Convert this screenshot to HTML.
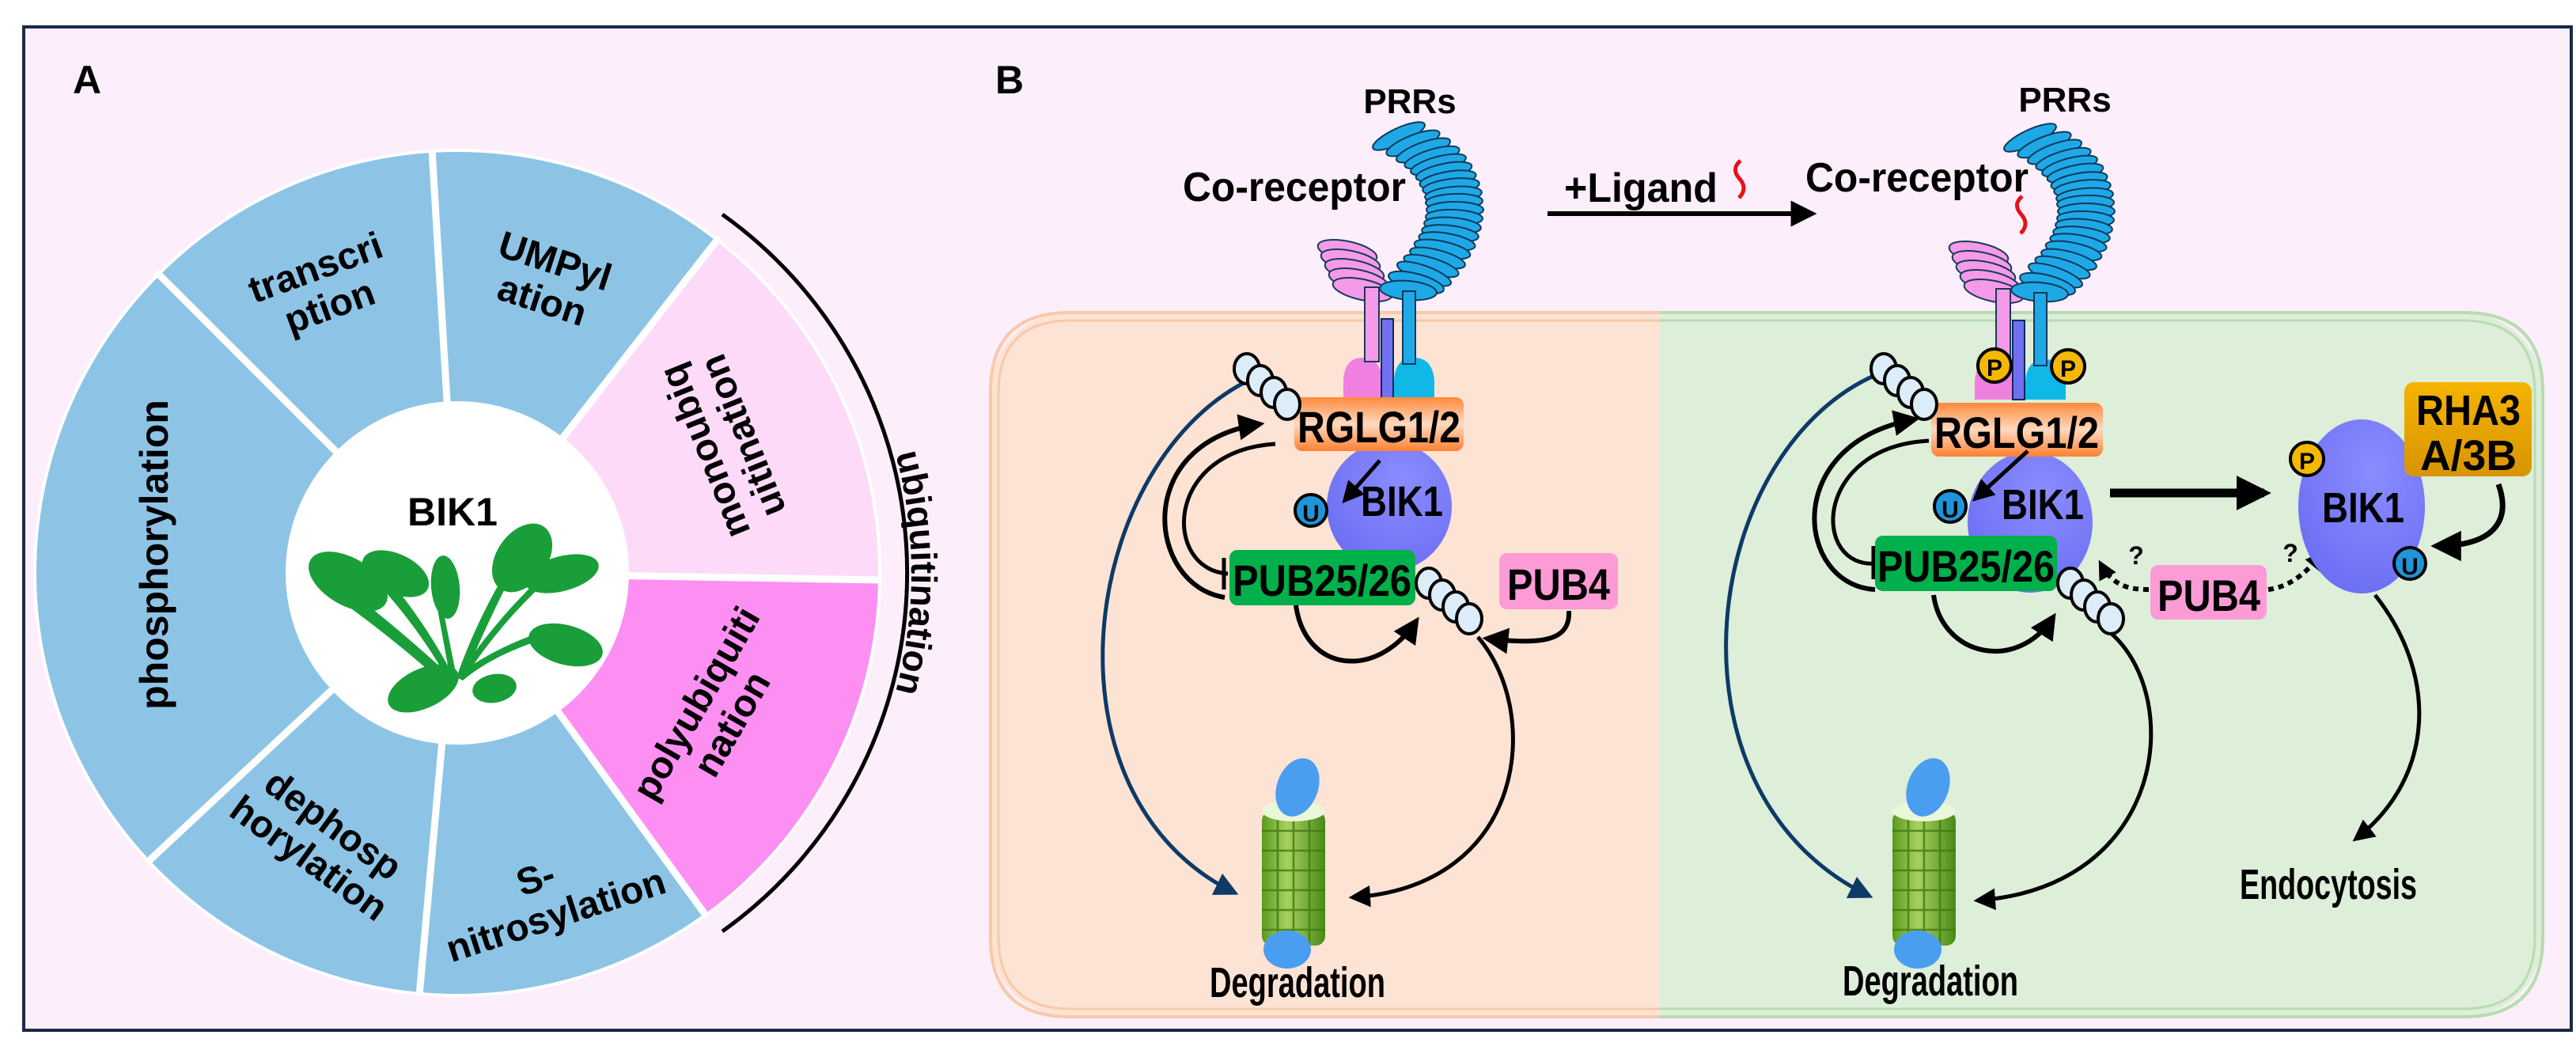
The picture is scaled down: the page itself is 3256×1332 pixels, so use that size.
<!DOCTYPE html>
<html><head><meta charset="utf-8"><style>
html,body{margin:0;padding:0;background:#fff}
svg{display:block}
.a{font-family:"Liberation Sans",sans-serif;font-weight:bold;fill:#000}
.n{font-family:"Liberation Sans Narrow","Liberation Sans",sans-serif;font-weight:bold;fill:#000}
</style></head><body>
<svg width="3256" height="1332" viewBox="0 0 3256 1332" xmlns="http://www.w3.org/2000/svg">
<defs>
<marker id="ah" viewBox="0 0 10 10" refX="8" refY="5" markerWidth="5.5" markerHeight="5.5" orient="auto-start-reverse" markerUnits="strokeWidth"><path d="M0,0 L10,5 L0,10 z" fill="#000"/></marker>
<marker id="ahn" viewBox="0 0 10 10" refX="8" refY="5" markerWidth="6" markerHeight="6" orient="auto" markerUnits="strokeWidth"><path d="M0,0 L10,5 L0,10 z" fill="#0d3a66"/></marker>
<marker id="ahs" viewBox="0 0 10 10" refX="8" refY="5" markerWidth="4" markerHeight="4" orient="auto" markerUnits="strokeWidth"><path d="M0,0 L10,5 L0,10 z" fill="#000"/></marker>
<linearGradient id="org" x1="0" y1="0" x2="0" y2="1"><stop offset="0" stop-color="#ff8a3a"/><stop offset="0.5" stop-color="#ffd9c0"/><stop offset="1" stop-color="#ff8030"/></linearGradient>
<linearGradient id="gold" x1="0" y1="0" x2="0" y2="1"><stop offset="0" stop-color="#f5b400"/><stop offset="1" stop-color="#d89400"/></linearGradient>
<linearGradient id="cyl" x1="0" y1="0" x2="1" y2="0"><stop offset="0" stop-color="#5a9a20"/><stop offset="0.4" stop-color="#a8d060"/><stop offset="1" stop-color="#4a8a18"/></linearGradient>
<radialGradient id="bik" cx="0.6" cy="0.3" r="0.8"><stop offset="0" stop-color="#8a8cff"/><stop offset="1" stop-color="#6a6cf2"/></radialGradient>
<clipPath id="cellc"><rect x="1252" y="395" width="1962" height="890" rx="100"/></clipPath>
<g id="rec">
 <g stroke="#1a3a5a" stroke-width="2" fill="#f49ae8">
  <ellipse cx="1703" cy="318" rx="38" ry="13" transform="rotate(12 1703 318)"/>
  <ellipse cx="1707" cy="330" rx="38" ry="13" transform="rotate(12 1707 330)"/>
  <ellipse cx="1712" cy="342" rx="38" ry="13" transform="rotate(12 1712 342)"/>
  <ellipse cx="1717" cy="354" rx="38" ry="13" transform="rotate(12 1717 354)"/>
  <ellipse cx="1722" cy="366" rx="38" ry="13" transform="rotate(12 1722 366)"/>
 </g>
 <g stroke="#0d3a5a" stroke-width="2" fill="#1fa8e6">
  <ellipse cx="1768" cy="172" rx="36" ry="10" transform="rotate(-25 1768 172)"/>
  <ellipse cx="1786" cy="181" rx="36" ry="10" transform="rotate(-22 1786 181)"/>
  <ellipse cx="1799" cy="190" rx="36" ry="10" transform="rotate(-20 1799 190)"/>
  <ellipse cx="1810" cy="199" rx="36" ry="10" transform="rotate(-17 1810 199)"/>
  <ellipse cx="1818" cy="208" rx="36" ry="10" transform="rotate(-15 1818 208)"/>
  <ellipse cx="1825" cy="217" rx="36" ry="10" transform="rotate(-12 1825 217)"/>
  <ellipse cx="1830" cy="227" rx="36" ry="10" transform="rotate(-10 1830 227)"/>
  <ellipse cx="1834" cy="236" rx="36" ry="10" transform="rotate(-7 1834 236)"/>
  <ellipse cx="1837" cy="246" rx="36" ry="10" transform="rotate(-5 1837 246)"/>
  <ellipse cx="1838" cy="255" rx="36" ry="10" transform="rotate(-2 1838 255)"/>
  <ellipse cx="1839" cy="265" rx="36" ry="10"/>
  <ellipse cx="1838" cy="275" rx="36" ry="10" transform="rotate(2 1838 275)"/>
  <ellipse cx="1836" cy="285" rx="36" ry="10" transform="rotate(5 1836 285)"/>
  <ellipse cx="1833" cy="295" rx="36" ry="10" transform="rotate(7 1833 295)"/>
  <ellipse cx="1829" cy="305" rx="36" ry="10" transform="rotate(10 1829 305)"/>
  <ellipse cx="1823" cy="315" rx="36" ry="10" transform="rotate(12 1823 315)"/>
  <ellipse cx="1817" cy="326" rx="36" ry="10" transform="rotate(15 1817 326)"/>
  <ellipse cx="1809" cy="336" rx="36" ry="10" transform="rotate(17 1809 336)"/>
  <ellipse cx="1800" cy="346" rx="36" ry="10" transform="rotate(20 1800 346)"/>
  <ellipse cx="1790" cy="357" rx="36" ry="11" transform="rotate(15 1790 357)"/>
  <ellipse cx="1780" cy="367" rx="36" ry="12" transform="rotate(5 1780 367)"/>
 </g>
 <path d="M1698,503 L1698,480 Q1700,452 1722,452 Q1745,452 1747,480 L1747,503 Z" fill="#f080e0"/>
 <path d="M1762,503 L1762,480 Q1764,452 1787,452 Q1810,452 1813,480 L1813,503 Z" fill="#10b8e8"/>
 <rect x="1725" y="363" width="18" height="94" fill="#f49ae8" stroke="#1a3a5a" stroke-width="2"/>
 <rect x="1773" y="368" width="16" height="92" fill="#1fa8e6" stroke="#0d3a5a" stroke-width="2"/>
 <rect x="1746" y="403" width="15" height="100" fill="#7070f0" stroke="#0d2a5a" stroke-width="2"/>
</g>
<g id="ubi4">
 <g fill="#dcecf8" stroke="#000" stroke-width="4">
  <ellipse cx="0" cy="0" rx="16" ry="19"/><ellipse cx="17" cy="15" rx="16" ry="19"/><ellipse cx="34" cy="30" rx="16" ry="19"/><ellipse cx="51" cy="45" rx="16" ry="19"/>
 </g>
</g>
<g id="prot">
 <rect x="-40" y="-75" width="80" height="170" rx="12" fill="url(#cyl)"/>
 <g stroke="#3e7a10" stroke-width="2.5" fill="none" opacity="0.8">
  <path d="M-40,-50 H40 M-40,-25 H40 M-40,0 H40 M-40,25 H40 M-40,50 H40 M-40,75 H40"/>
  <path d="M-20,-75 V95 M0,-75 V95 M20,-75 V95"/>
 </g>
 <ellipse cx="0" cy="-75" rx="40" ry="13" fill="#e8f8d8"/>
 <ellipse cx="5" cy="-105" rx="26" ry="38" fill="#4a9ef0" transform="rotate(20 5 -105)"/>
 <ellipse cx="-8" cy="100" rx="30" ry="24" fill="#4a9ef0"/>
</g>
</defs>

<rect x="0" y="0" width="3256" height="1332" fill="#fff"/>
<rect x="30" y="34" width="3220" height="1268" fill="#fdeefb" stroke="#1b2a48" stroke-width="4"/>

<!-- Panel A -->
<text class="a" x="92" y="118" font-size="50">A</text>
<circle cx="578" cy="724" r="536" fill="#fff"/>
<circle cx="578" cy="724" r="532" fill="#8dc4e6"/>
<path d="M578,724 L1110,733 A532,532 0 0 0 906,305 Z" fill="#fddbf8"/>
<path d="M578,724 L891,1155 A532,532 0 0 0 1110,733 Z" fill="#fd8ff2"/>
<g stroke="#fff" stroke-width="9">
 <line x1="578" y1="724" x2="546" y2="189"/>
 <line x1="578" y1="724" x2="909" y2="300"/>
 <line x1="578" y1="724" x2="1114" y2="733"/>
 <line x1="578" y1="724" x2="893" y2="1158"/>
 <line x1="578" y1="724" x2="530" y2="1258"/>
 <line x1="578" y1="724" x2="186" y2="1090"/>
 <line x1="578" y1="724" x2="198" y2="344"/>
</g>
<circle cx="578" cy="724" r="217" fill="#fff"/>
<path d="M913,271 A556,556 0 0 1 913,1177" fill="none" stroke="#000" stroke-width="5"/>
<path id="ubarc" d="M578,150 A574,574 0 0 1 578,1298" fill="none"/>
<text class="a" font-size="46"><textPath href="#ubarc" startOffset="50%" text-anchor="middle">ubiquitination</textPath></text>

<text class="a" font-size="50" text-anchor="middle" transform="translate(195,701) rotate(-90)" y="17">phosphorylation</text>
<text class="a" font-size="48" text-anchor="middle" transform="translate(407,361) rotate(-20)"><tspan x="0" y="-8">transcri</tspan><tspan x="0" y="44">ption</tspan></text>
<text class="a" font-size="48" text-anchor="middle" transform="translate(694,353) rotate(18)"><tspan x="0" y="-8">UMPyl</tspan><tspan x="0" y="44">ation</tspan></text>
<text class="a" font-size="48" text-anchor="middle" transform="translate(913,561) rotate(248)"><tspan x="0" y="-8">monoubiq</tspan><tspan x="0" y="44">uitination</tspan></text>
<text class="a" font-size="48" text-anchor="middle" transform="translate(901,901) rotate(-60)"><tspan x="0" y="-8">polyubiquiti</tspan><tspan x="0" y="44">nation</tspan></text>
<text class="a" font-size="48" text-anchor="middle" transform="translate(694,1130) rotate(-18)"><tspan x="-10" y="-8">S-</tspan><tspan x="0" y="44">nitrosylation</tspan></text>
<text class="a" font-size="48" text-anchor="middle" transform="translate(407,1062) rotate(36)"><tspan x="0" y="-8">dephosp</tspan><tspan x="0" y="44">horylation</tspan></text>
<text class="a" font-size="50" x="572" y="664" text-anchor="middle">BIK1</text>
<!-- plant -->
<g fill="#1a9e3a">
 <ellipse cx="440" cy="735" rx="55" ry="30" transform="rotate(30 440 735)"/>
 <path d="M420,730 Q500,790 575,860 L565,868 Q490,800 410,745 Z"/>
 <ellipse cx="500" cy="725" rx="45" ry="25" transform="rotate(25 500 725)"/>
 <path d="M490,730 Q540,790 575,858 L568,862 Q530,795 480,740 Z"/>
 <ellipse cx="563" cy="742" rx="18" ry="40" transform="rotate(-5 563 742)"/>
 <path d="M558,760 L578,860 L570,862 L552,765 Z"/>
 <ellipse cx="660" cy="705" rx="32" ry="48" transform="rotate(35 660 705)"/>
 <path d="M645,730 Q610,800 585,860 L577,856 Q600,790 638,725 Z"/>
 <ellipse cx="710" cy="725" rx="48" ry="22" transform="rotate(-15 710 725)"/>
 <path d="M690,735 Q630,790 585,860 L578,855 Q625,785 685,728 Z"/>
 <ellipse cx="715" cy="815" rx="48" ry="25" transform="rotate(15 715 815)"/>
 <path d="M680,810 Q620,830 585,860 L580,852 Q620,822 675,802 Z"/>
 <ellipse cx="535" cy="870" rx="48" ry="25" transform="rotate(-25 535 870)"/>
 <ellipse cx="625" cy="870" rx="28" ry="18" transform="rotate(-10 625 870)"/>
</g>

<!-- Panel B -->
<text class="a" x="1258" y="118" font-size="50">B</text>
<g clip-path="url(#cellc)">
 <rect x="1252" y="395" width="846" height="890" fill="#fde3d4"/>
 <rect x="2098" y="395" width="1116" height="890" fill="#ddeed9"/>
</g>
<path d="M2098,395 H1352 Q1252,395 1252,495 V1185 Q1252,1285 1352,1285 H2098" fill="none" stroke="#f9c9a8" stroke-width="4"/>
<path d="M2098,405 H1354 Q1262,405 1262,497 V1183 Q1262,1275 1354,1275 H2098" fill="none" stroke="#f9c9a8" stroke-width="3"/>
<path d="M2098,395 H3114 Q3214,395 3214,495 V1185 Q3214,1285 3114,1285 H2098" fill="none" stroke="#b8dcb0" stroke-width="4"/>
<path d="M2098,405 H3112 Q3204,405 3204,497 V1183 Q3204,1275 3112,1275 H2098" fill="none" stroke="#b8dcb0" stroke-width="3"/>

<!-- top labels -->
<text class="a" x="1782" y="143" font-size="44" text-anchor="middle">PRRs</text>
<text class="n" x="1495" y="254" font-size="52" textLength="282" lengthAdjust="spacingAndGlyphs">Co-receptor</text>
<text class="a" x="2610" y="141" font-size="44" text-anchor="middle">PRRs</text>
<text class="n" x="2282" y="242" font-size="52" textLength="282" lengthAdjust="spacingAndGlyphs">Co-receptor</text>
<text class="n" x="1977" y="255" font-size="52" textLength="194" lengthAdjust="spacingAndGlyphs">+Ligand</text>
<path d="M2200,203 Q2188,213 2198,225 Q2210,238 2198,250" fill="none" stroke="#e8101a" stroke-width="5"/>
<path d="M2556,248 Q2544,258 2554,270 Q2566,283 2554,295" fill="none" stroke="#e8101a" stroke-width="5"/>
<line x1="1956" y1="270" x2="2290" y2="270" stroke="#000" stroke-width="6" marker-end="url(#ah)"/>

<use href="#rec"/>
<use href="#rec" transform="translate(798,2)"/>

<!-- LEFT cell contents -->
<path d="M1598,472 C1370,560 1300,1000 1560,1128" fill="none" stroke="#0d3a66" stroke-width="5" marker-end="url(#ahn)"/>
<path d="M1548,755 C1450,740 1430,560 1592,536" fill="none" stroke="#000" stroke-width="6" marker-end="url(#ah)"/>
<path d="M1612,561 C1470,570 1470,720 1552,725" fill="none" stroke="#000" stroke-width="5"/>
<line x1="1547" y1="705" x2="1547" y2="745" stroke="#000" stroke-width="5"/>
<ellipse cx="1756" cy="640" rx="79" ry="82" fill="url(#bik)"/>
<rect x="1636" y="502" width="214" height="68" rx="10" fill="url(#org)"/>
<text class="n" x="1640" y="559" font-size="56" textLength="206" lengthAdjust="spacingAndGlyphs">RGLG1/2</text>
<text class="n" x="1720" y="652" font-size="54" textLength="104" lengthAdjust="spacingAndGlyphs">BIK1</text>
<line x1="1744" y1="582" x2="1700" y2="632" stroke="#000" stroke-width="5" marker-end="url(#ah)"/>
<circle cx="1657" cy="645" r="20" fill="#1e95d8" stroke="#000" stroke-width="4"/>
<text class="a" x="1657" y="659" font-size="30" text-anchor="middle">U</text>
<rect x="1554" y="695" width="235" height="70" rx="10" fill="#00b04a"/>
<text class="n" x="1558" y="753" font-size="56" textLength="226" lengthAdjust="spacingAndGlyphs">PUB25/26</text>
<rect x="1895" y="699" width="150" height="71" rx="10" fill="#fd9bd6"/>
<text class="n" x="1905" y="758" font-size="56" textLength="130" lengthAdjust="spacingAndGlyphs">PUB4</text>
<use href="#ubi4" transform="translate(1576,466)"/>
<use href="#ubi4" transform="translate(1806,737)"/>
<path d="M1638,765 C1650,850 1740,860 1790,785" fill="none" stroke="#000" stroke-width="6" marker-end="url(#ah)"/>
<path d="M1983,772 C1985,810 1950,815 1880,807" fill="none" stroke="#000" stroke-width="6" marker-end="url(#ah)"/>
<path d="M1868,805 C1950,900 1930,1120 1710,1134" fill="none" stroke="#000" stroke-width="5" marker-end="url(#ah)"/>
<use href="#prot" transform="translate(1635,1100)"/>
<text class="n" x="1640" y="1260" font-size="54" text-anchor="middle" textLength="222" lengthAdjust="spacingAndGlyphs">Degradation</text>

<!-- RIGHT cell contents -->
<path d="M2380,470 C2150,560 2090,1000 2362,1132" fill="none" stroke="#0d3a66" stroke-width="5" marker-end="url(#ahn)"/>
<path d="M2370,745 C2270,740 2250,560 2420,530" fill="none" stroke="#000" stroke-width="6" marker-end="url(#ah)"/>
<path d="M2438,557 C2290,565 2290,720 2372,712" fill="none" stroke="#000" stroke-width="5"/>
<line x1="2368" y1="690" x2="2368" y2="732" stroke="#000" stroke-width="5"/>
<ellipse cx="2566" cy="660" rx="79" ry="89" fill="url(#bik)"/>
<rect x="2441" y="509" width="217" height="68" rx="10" fill="url(#org)"/>
<text class="n" x="2445" y="566" font-size="56" textLength="208" lengthAdjust="spacingAndGlyphs">RGLG1/2</text>
<text class="n" x="2530" y="656" font-size="54" textLength="104" lengthAdjust="spacingAndGlyphs">BIK1</text>
<line x1="2563" y1="570" x2="2497" y2="630" stroke="#000" stroke-width="5" marker-end="url(#ah)"/>
<circle cx="2465" cy="640" r="20" fill="#1e95d8" stroke="#000" stroke-width="4"/>
<text class="a" x="2465" y="654" font-size="30" text-anchor="middle">U</text>
<rect x="2370" y="677" width="230" height="70" rx="10" fill="#00b04a"/>
<text class="n" x="2373" y="735" font-size="56" textLength="224" lengthAdjust="spacingAndGlyphs">PUB25/26</text>
<use href="#ubi4" transform="translate(2381,466)"/>
<use href="#ubi4" transform="translate(2617,737)"/>
<path d="M2444,752 C2455,830 2550,850 2595,780" fill="none" stroke="#000" stroke-width="6" marker-end="url(#ah)"/>
<path d="M2668,800 C2760,880 2740,1120 2500,1138" fill="none" stroke="#000" stroke-width="5" marker-end="url(#ah)"/>
<use href="#prot" transform="translate(2432,1100)"/>
<text class="n" x="2440" y="1258" font-size="54" text-anchor="middle" textLength="222" lengthAdjust="spacingAndGlyphs">Degradation</text>

<rect x="2718" y="714" width="147" height="69" rx="10" fill="#fd9bd6"/>
<text class="n" x="2727" y="772" font-size="56" textLength="130" lengthAdjust="spacingAndGlyphs">PUB4</text>
<path d="M2716,745 C2690,745 2670,740 2655,712" fill="none" stroke="#000" stroke-width="6" stroke-dasharray="7 6" marker-end="url(#ahs)"/>
<path d="M2867,745 C2890,742 2910,730 2935,700" fill="none" stroke="#000" stroke-width="6" stroke-dasharray="7 6" marker-end="url(#ahs)"/>
<text class="n" x="2700" y="713" font-size="32" text-anchor="middle">?</text>
<text class="n" x="2895" y="710" font-size="32" text-anchor="middle">?</text>
<line x1="2667" y1="623" x2="2862" y2="623" stroke="#000" stroke-width="11" marker-end="url(#ahs)"/>

<ellipse cx="2985" cy="640" rx="80" ry="110" fill="url(#bik)"/>
<circle cx="2916" cy="580" r="21" fill="#f5b800" stroke="#000" stroke-width="4"/>
<text class="a" x="2916" y="593" font-size="30" text-anchor="middle">P</text>
<g fill="#f5b800" stroke="#000" stroke-width="4">
 <circle cx="2521" cy="462" r="21"/><circle cx="2614" cy="463" r="21"/>
</g>
<text class="a" x="2521" y="475" font-size="30" text-anchor="middle">P</text>
<text class="a" x="2614" y="476" font-size="30" text-anchor="middle">P</text>
<text class="n" x="2935" y="660" font-size="54" textLength="104" lengthAdjust="spacingAndGlyphs">BIK1</text>
<circle cx="3046" cy="712" r="20" fill="#1e95d8" stroke="#000" stroke-width="4"/>
<text class="a" x="3046" y="726" font-size="30" text-anchor="middle">U</text>
<rect x="3039" y="483" width="161" height="119" rx="12" fill="url(#gold)"/>
<text class="n" x="3120" y="537" font-size="54" text-anchor="middle" textLength="132" lengthAdjust="spacingAndGlyphs">RHA3</text>
<text class="n" x="3120" y="594" font-size="54" text-anchor="middle" textLength="122" lengthAdjust="spacingAndGlyphs">A/3B</text>
<path d="M3158,612 C3175,660 3150,690 3080,690" fill="none" stroke="#000" stroke-width="7" marker-end="url(#ah)"/>
<path d="M3002,752 C3080,850 3080,980 2978,1060" fill="none" stroke="#000" stroke-width="5" marker-end="url(#ah)"/>
<text class="n" x="2943" y="1136" font-size="54" text-anchor="middle" textLength="224" lengthAdjust="spacingAndGlyphs">Endocytosis</text>
</svg>
</body></html>
